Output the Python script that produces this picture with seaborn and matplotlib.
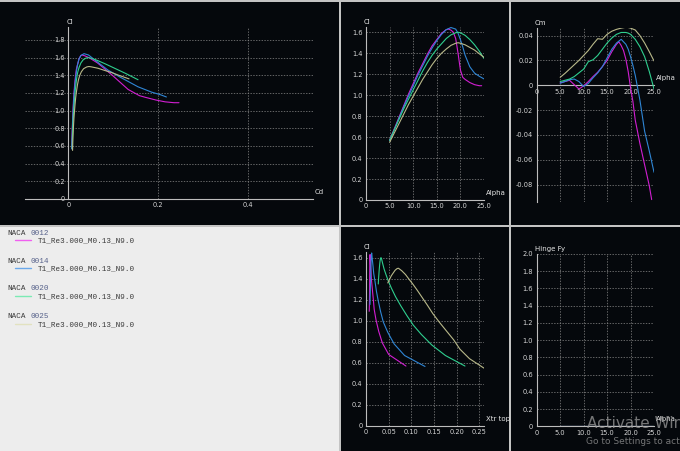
# XFLR5 style polar view for four NACA sections, redrawn with seaborn.

import numpy as np
import pandas as pd
import matplotlib
matplotlib.use("Agg")
import matplotlib.pyplot as plt
from matplotlib.lines import Line2D
from matplotlib.patches import Rectangle
import seaborn as sns

sns.set_style("dark")
plt.rcParams['font.family'] = ['DejaVu Sans']

foils = ["NACA 0012", "NACA 0014", "NACA 0020", "NACA 0025"]
polar_name = "T1_Re3.000_M0.13_N9.0"
colors = ["#d21ed2", "#2f86d6", "#2fcf8f", "#b9b98a"]
legend_colors = ["#f060f0", "#6aa8ea", "#7beab4", "#e2e2c0"]

# NACA 0012
alpha_12 = [5, 6, 7, 8, 9, 10, 11, 12, 13, 14, 15, 16, 17, 17.5, 18, 18.5, 19, 19.5, 20, 20.5, 21, 22, 23, 24, 24.5]
cl_12 = [0.57, 0.68, 0.79, 0.90, 1.01, 1.11, 1.21, 1.30, 1.39, 1.47, 1.53, 1.59, 1.625, 1.63, 1.62, 1.60, 1.54, 1.40, 1.24, 1.17, 1.15, 1.12, 1.10, 1.09, 1.09]
cd_12 = [0.0075, 0.008, 0.0088, 0.0096, 0.0105, 0.0115, 0.0128, 0.0142, 0.016, 0.018, 0.021, 0.024, 0.028, 0.031, 0.037, 0.046, 0.065, 0.098, 0.133, 0.158, 0.172, 0.195, 0.215, 0.235, 0.246]
cm_12 = [0.002, 0.003, 0.004, 0.0005, -0.003, -0.0005, 0.003, 0.007, 0.0105, 0.015, 0.020, 0.027, 0.033, 0.035, 0.032, 0.028, 0.021, 0.011, -0.002, -0.013, -0.028, -0.047, -0.064, -0.081, -0.092]
xtr_12 = [0.088, 0.05, 0.036, 0.028, 0.022, 0.018, 0.016, 0.014, 0.012, 0.011, 0.010, 0.0095, 0.009, 0.009, 0.0088, 0.0085, 0.0083, 0.008, 0.0078, 0.0076, 0.0075, 0.0073, 0.0072, 0.007, 0.007]

# NACA 0014
alpha_14 = [5, 6, 7, 8, 9, 10, 11, 12, 13, 14, 15, 16, 17, 18, 19, 19.5, 20, 20.5, 21, 22, 23, 24, 25]
cl_14 = [0.566, 0.67, 0.78, 0.89, 0.99, 1.09, 1.19, 1.28, 1.37, 1.45, 1.52, 1.58, 1.625, 1.645, 1.63, 1.59, 1.53, 1.46, 1.38, 1.27, 1.21, 1.18, 1.155]
cd_14 = [0.0078, 0.0083, 0.009, 0.0098, 0.0107, 0.0118, 0.013, 0.0145, 0.0162, 0.0182, 0.0205, 0.0235, 0.028, 0.035, 0.045, 0.055, 0.07, 0.088, 0.115, 0.155, 0.185, 0.205, 0.218]
cm_14 = [0.0016, 0.003, 0.0045, 0.005, 0.003, -0.001, 0.0015, 0.006, 0.010, 0.015, 0.022, 0.029, 0.034, 0.037, 0.033, 0.029, 0.023, 0.016, 0.008, -0.012, -0.037, -0.053, -0.070]
xtr_14 = [0.13, 0.085, 0.062, 0.048, 0.038, 0.032, 0.027, 0.023, 0.02, 0.017, 0.0155, 0.014, 0.013, 0.0125, 0.012, 0.0115, 0.011, 0.0105, 0.010, 0.0095, 0.009, 0.009, 0.0088]

# NACA 0020
alpha_20 = [5, 6, 7, 8, 9, 10, 11, 12, 13, 14, 15, 16, 17, 18, 19, 19.5, 20, 21, 22, 23, 24, 25]
cl_20 = [0.57, 0.67, 0.77, 0.87, 0.96, 1.05, 1.14, 1.23, 1.31, 1.38, 1.44, 1.49, 1.54, 1.575, 1.595, 1.60, 1.595, 1.57, 1.53, 1.48, 1.42, 1.35]
cd_20 = [0.0085, 0.009, 0.0097, 0.0105, 0.0115, 0.0127, 0.014, 0.0155, 0.0172, 0.019, 0.0212, 0.024, 0.028, 0.033, 0.039, 0.044, 0.05, 0.064, 0.082, 0.103, 0.128, 0.155]
cm_20 = [0.003, 0.004, 0.005, 0.007, 0.010, 0.013, 0.019, 0.0205, 0.024, 0.029, 0.034, 0.038, 0.041, 0.0425, 0.0425, 0.042, 0.041, 0.037, 0.031, 0.023, 0.011, -0.003]
xtr_20 = [0.218, 0.175, 0.145, 0.122, 0.104, 0.09, 0.077, 0.065, 0.056, 0.049, 0.044, 0.040, 0.037, 0.035, 0.034, 0.033, 0.032, 0.031, 0.030, 0.029, 0.028, 0.027]

# NACA 0025
alpha_25 = [5, 6, 7, 8, 9, 10, 11, 12, 13, 14, 15, 16, 17, 18, 19, 19.5, 20, 21, 22, 23, 24, 25]
cl_25 = [0.55, 0.64, 0.73, 0.82, 0.91, 0.99, 1.07, 1.15, 1.22, 1.29, 1.35, 1.40, 1.44, 1.475, 1.495, 1.50, 1.495, 1.48, 1.455, 1.43, 1.395, 1.36]
cd_25 = [0.0095, 0.01, 0.0107, 0.0115, 0.0125, 0.0137, 0.015, 0.0165, 0.0183, 0.0203, 0.0226, 0.0255, 0.029, 0.034, 0.041, 0.046, 0.052, 0.066, 0.081, 0.097, 0.115, 0.135]
cm_25 = [0.0064, 0.0095, 0.013, 0.0165, 0.020, 0.024, 0.028, 0.033, 0.0375, 0.037, 0.041, 0.0435, 0.045, 0.046, 0.0467, 0.0465, 0.046, 0.0445, 0.040, 0.034, 0.027, 0.0196]
xtr_25 = [0.26, 0.228, 0.207, 0.193, 0.176, 0.161, 0.147, 0.135, 0.124, 0.113, 0.103, 0.094, 0.087, 0.079, 0.073, 0.071, 0.068, 0.064, 0.06, 0.056, 0.052, 0.048]

# tick positions / labels
cd_ticks = [0, 0.2, 0.4]
cd_labels = ["0", "0.2", "0.4"]
cl_ticks = [0, 0.2, 0.4, 0.6, 0.8, 1.0, 1.2, 1.4, 1.6, 1.8]
cl_labels = ["0", "0.2", "0.4", "0.6", "0.8", "1.0", "1.2", "1.4", "1.6", "1.8"]
alpha_ticks = [0, 5, 10, 15, 20, 25]
alpha_labels = ["0", "5.0", "10.0", "15.0", "20.0", "25.0"]
cm_ticks = [-0.08, -0.06, -0.04, -0.02, 0, 0.02, 0.04]
cm_labels = ["-0.08", "-0.06", "-0.04", "-0.02", "0", "0.02", "0.04"]
xtr_ticks = [0, 0.05, 0.10, 0.15, 0.20, 0.25]
xtr_labels = ["0", "0.05", "0.10", "0.15", "0.20", "0.25"]
hinge_ticks = [0, 0.2, 0.4, 0.6, 0.8, 1.0, 1.2, 1.4, 1.6, 1.8, 2.0]
hinge_labels = ["0", "0.2", "0.4", "0.6", "0.8", "1.0", "1.2", "1.4", "1.6", "1.8", "2.0"]

frames = []
for name, a, cl, cd, cm, xtr in zip(foils,
                                     [alpha_12, alpha_14, alpha_20, alpha_25],
                                     [cl_12, cl_14, cl_20, cl_25],
                                     [cd_12, cd_14, cd_20, cd_25],
                                     [cm_12, cm_14, cm_20, cm_25],
                                     [xtr_12, xtr_14, xtr_20, xtr_25]):
    frames.append(pd.DataFrame({"foil": name, "alpha": a, "Cl": cl, "Cd": cd,
                                "Cm": cm, "Xtr": xtr, "Hinge": [0.0] * len(a)}))
df = pd.concat(frames, ignore_index=True)
pal = dict(zip(foils, colors))

W, H = 680, 451
fig = plt.figure(figsize=(6.8, 4.51), dpi=100, facecolor="#c4c4c4")

BG = "#05080c"
# panel backgrounds (pixels: x0, x1, ytop, ybot)
for x0, x1, y0, y1, c in [(0, 339, 2, 225, BG), (341, 509, 2, 225, BG), (511, 680, 2, 225, BG),
                          (0, 339, 227, 451, "#ededed"), (341, 509, 227, 451, BG), (511, 680, 227, 451, BG)]:
    fig.add_artist(Rectangle((x0 / W, 1 - y1 / H), (x1 - x0) / W, (y1 - y0) / H,
                             transform=fig.transFigure, color=c, zorder=0, lw=0))


def px_axes(x0, x1, ytop, ybot):
    return fig.add_axes([x0 / W, 1 - ybot / H, (x1 - x0) / W, (ybot - ytop) / H])


def style(ax, xlim, ylim, xt, xl, yt, yl, xname, yname):
    ax.set_facecolor("none")
    ax.set_xlim(xlim)
    ax.set_ylim(ylim)
    ax.set_xticks(xt)
    ax.set_xticklabels(xl)
    ax.set_yticks(yt)
    ax.set_yticklabels(yl)
    ax.set_xlabel("")
    ax.set_ylabel("")
    for s in ["top", "right"]:
        ax.spines[s].set_visible(False)
    ax.spines["left"].set_position(("data", 0))
    ax.spines["bottom"].set_position(("data", 0))
    for s in ["left", "bottom"]:
        ax.spines[s].set_color("#bdbdbd")
        ax.spines[s].set_linewidth(0.8)
        ax.spines[s].set_zorder(1)
    ax.tick_params(length=0, labelsize=4.8, colors="#d6d6d6", pad=2.5)
    ax.grid(True, color="#8a8a8a", linestyle=(0, (2, 2)), linewidth=0.5)
    ax.annotate(xname, xy=(1, 0), xycoords=ax.get_yaxis_transform(), xytext=(2, 7),
                textcoords="offset pixels", ha="left", va="center", fontsize=5, color="#e4e4e4")
    ax.annotate(yname, xy=(0, 1), xycoords=ax.get_xaxis_transform(), xytext=(-2, 5),
                textcoords="offset pixels", ha="left", va="center", fontsize=5, color="#e4e4e4")


def curves(ax, x, y):
    sns.lineplot(data=df, x=x, y=y, hue="foil", palette=pal, sort=False, estimator=None,
                 legend=False, linewidth=0.8, ax=ax, zorder=3)


# Cl vs Cd
ax1 = px_axes(25, 313, 27, 199)
curves(ax1, "Cd", "Cl")
style(ax1, (-0.0962, 0.5438), (0, 1.947), cd_ticks, cd_labels, cl_ticks, cl_labels, "Cd", "Cl")

# Cl vs Alpha
ax2 = px_axes(366, 484.2, 27, 200)
curves(ax2, "alpha", "Cl")
style(ax2, (0, 25.04), (0, 1.65), alpha_ticks, alpha_labels, cl_ticks[:9], cl_labels[:9], "Alpha", "Cl")

# Cm vs Alpha
ax3 = px_axes(536.7, 654.2, 28, 201.7)
curves(ax3, "alpha", "Cm")
style(ax3, (0, 25.04), (-0.0937, 0.0461), alpha_ticks, alpha_labels, cm_ticks, cm_labels, "Alpha", "Cm")

# Cl vs Xtr top
ax4 = px_axes(366, 484.2, 251.7, 426)
curves(ax4, "Xtr", "Cl")
style(ax4, (0, 0.2604), (0, 1.657), xtr_ticks, xtr_labels, cl_ticks[:9], cl_labels[:9], "Xtr top", "Cl")

# Hinge Fy vs Alpha
ax5 = px_axes(536.7, 654.2, 253.5, 426.3)
curves(ax5, "alpha", "Hinge")
style(ax5, (0, 25.04), (0, 2.003), alpha_ticks, alpha_labels, hinge_ticks, hinge_labels, "Alpha", "Hinge Fy")

# legend block
for i, (name, lc) in enumerate(zip(foils, legend_colors)):
    y = 233.3 + 27.8 * i
    head, num = name.split(" ")
    fig.text(7 / W, 1 - y / H, head, fontsize=5.5, family="Liberation Mono", color="#3a3a3a",
             ha="left", va="center")
    fig.text(30.5 / W, 1 - y / H, num, fontsize=5.5, family="Liberation Mono", color="#56618a",
             ha="left", va="center")
    fig.add_artist(Line2D([15 / W, 31 / W], [1 - (y + 7) / H] * 2, color=lc, lw=1.0,
                          transform=fig.transFigure))
    fig.text(38 / W, 1 - (y + 7.8) / H, polar_name, fontsize=5.5, family="Liberation Mono",
             color="#3a3a3a", ha="left", va="center")

# windows watermark visible in the screenshot (it runs off the right edge there too)
fig.text(587 / W, 1 - 423 / H, "Activate Windows", fontsize=11, color="#9a9a9a", alpha=0.75,
         ha="left", va="center")
fig.text(586 / W, 1 - 442 / H, "Go to Settings to activate Windows.", fontsize=6.5,
         color="#9a9a9a", alpha=0.75, ha="left", va="center")

fig.savefig("out.png", dpi=100, facecolor=fig.get_facecolor())
